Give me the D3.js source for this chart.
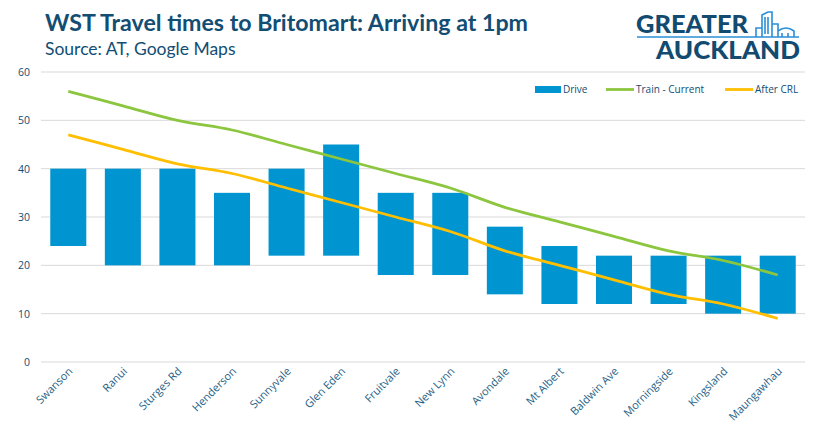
<!DOCTYPE html>
<html>
<head>
<meta charset="utf-8">
<script src="https://cdn.jsdelivr.net/npm/d3@7"></script>
<style>
  body { margin: 0; background: #fff; }
  svg { font-family: "Open Sans", sans-serif; }
</style>
</head>
<body>
<div id="chart"></div>
<script>
// stations, west to east
const stations = ["Swanson", "Ranui", "Sturges Rd", "Henderson", "Sunnyvale", "Glen Eden", "Fruitvale",
  "New Lynn", "Avondale", "Mt Albert", "Baldwin Ave", "Morningside", "Kingsland", "Maungawhau"];
// drive time range (minutes)
const driveLow = [24, 20, 20, 20, 22, 22, 18, 18, 14, 12, 12, 12, 10, 10];
const driveHigh = [40, 40, 40, 35, 40, 45, 35, 35, 28, 24, 22, 22, 22, 22];
const trainCurrent = [56, 53, 50, 48, 45, 42, 39, 36, 32, 29, 26, 23, 21, 18];
const afterCRL = [47, 44, 41, 39, 36, 33, 30, 27, 23, 20, 17, 14, 12, 9];
const yTicks = [0, 10, 20, 30, 40, 50, 60];

const W = 829, H = 432;
const margin = { top: 72, right: 24, bottom: 70, left: 41 };
const dark = "#124d73";

const svg = d3.select("#chart").append("svg")
  .attr("width", W).attr("height", H);

const x = d3.scaleBand().domain(stations)
  .range([margin.left, W - margin.right]).paddingInner(0.34).paddingOuter(0.17);
const y = d3.scaleLinear().domain([0, 60]).range([H - margin.bottom, margin.top]);

// grid lines
svg.append("g").selectAll("line").data(yTicks).enter().append("line")
  .attr("x1", margin.left).attr("x2", W - margin.right)
  .attr("y1", d => y(d)).attr("y2", d => y(d))
  .attr("stroke", "#d9d9d9").attr("stroke-width", 1);

// y labels
svg.append("g").selectAll("text").data(yTicks).enter().append("text")
  .attr("x", 30).attr("y", d => y(d) + 4)
  .attr("text-anchor", "end").attr("font-size", 10.5).attr("fill", dark)
  .text(d => d);

// drive bars
svg.append("g").selectAll("rect").data(stations).enter().append("rect")
  .attr("x", d => x(d))
  .attr("width", x.bandwidth())
  .attr("y", (d, i) => y(driveHigh[i]))
  .attr("height", (d, i) => y(driveLow[i]) - y(driveHigh[i]))
  .attr("fill", "#0094d0");

// lines
const line = d3.line()
  .x((d, i) => x(stations[i]) + x.bandwidth() / 2)
  .y(d => y(d))
  .curve(d3.curveCatmullRom.alpha(0.5));

svg.append("path").datum(trainCurrent).attr("d", line)
  .attr("fill", "none").attr("stroke", "#8cc63f").attr("stroke-width", 2.8);
svg.append("path").datum(afterCRL).attr("d", line)
  .attr("fill", "none").attr("stroke", "#ffbf00").attr("stroke-width", 2.8);

// x labels
svg.append("g").selectAll("text").data(stations).enter().append("text")
  .attr("transform", d => "translate(" + (x(d) + x.bandwidth() / 2 + 5) + "," + (H - margin.bottom + 10) + ") rotate(-45)")
  .attr("text-anchor", "end").attr("font-size", 11).attr("fill", "#1f5f86")
  .text(d => d);

// legend
const legend = svg.append("g").attr("font-size", 10).attr("fill", dark);
legend.append("rect").attr("x", 535).attr("y", 86).attr("width", 26).attr("height", 7).attr("fill", "#0094d0");
legend.append("text").attr("x", 563).attr("y", 93).text("Drive");
legend.append("line").attr("x1", 606).attr("x2", 634).attr("y1", 89.5).attr("y2", 89.5)
  .attr("stroke", "#8cc63f").attr("stroke-width", 2.8);
legend.append("text").attr("x", 636).attr("y", 93).text("Train - Current");
legend.append("line").attr("x1", 725).attr("x2", 753).attr("y1", 89.5).attr("y2", 89.5)
  .attr("stroke", "#ffbf00").attr("stroke-width", 2.8);
legend.append("text").attr("x", 755).attr("y", 93).text("After CRL");

// title
svg.append("text").attr("x", 45).attr("y", 31)
  .attr("font-family", "Lato, sans-serif").attr("font-weight", 700).attr("font-size", 23.5)
  .attr("textLength", 483).attr("lengthAdjust", "spacingAndGlyphs")
  .attr("fill", dark).text("WST Travel times to Britomart: Arriving at 1pm");
svg.append("text").attr("x", 45).attr("y", 55)
  .attr("font-family", "Lato, sans-serif").attr("font-size", 17.5)
  .attr("fill", dark).text("Source: AT, Google Maps");

// logo
const logo = svg.append("g").attr("font-family", "Lato, sans-serif").attr("font-weight", 900).attr("fill", "#134a70");
logo.append("text").attr("x", 636).attr("y", 33).attr("font-size", 24)
  .attr("textLength", 112).attr("lengthAdjust", "spacingAndGlyphs").text("GREATER");
logo.append("text").attr("x", 656).attr("y", 59).attr("font-size", 24)
  .attr("textLength", 144).attr("lengthAdjust", "spacingAndGlyphs").text("AUCKLAND");
const icon = svg.append("g").attr("fill", "none").attr("stroke", "#2a8fd6").attr("stroke-width", 1.6);
icon.append("line").attr("x1", 637).attr("x2", 799).attr("y1", 37).attr("y2", 37);
icon.append("path").attr("d", "M756,37 V28 H762 V37 M762,37 V15 L768,12 H772 V37 M772,24 H778 V37 M778,31 Q786,25 794,31 V37");
icon.append("path").attr("d", "M765,17 V34 M768,17 V34 M782,33 V37 M788,33 V37");
</script>
</body>
</html>
